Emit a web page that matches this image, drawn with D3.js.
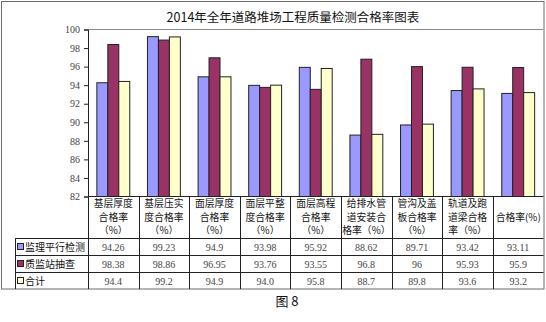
<!DOCTYPE html>
<html><head><meta charset="utf-8">
<script src="https://cdn.jsdelivr.net/npm/d3@7"></script>
<style>
body{margin:0;background:#fff;}
svg text{font-family:"Noto Sans CJK SC","DejaVu Sans",sans-serif;}
</style></head>
<body><svg id="c" width="546" height="322"></svg>
<script>
const title = "2014年全年道路堆场工程质量检测合格率图表";
const categories = ["c1","c2","c3","c4","c5","c6","c7","c8","c9"];
const categoryLabels = [
  ["基层厚度","合格率","（%）"],
  ["基层压实","度合格率","（%）"],
  ["面层厚度","合格率","（%）"],
  ["面层平整","度合格率","（%）"],
  ["面层高程","合格率","（%）"],
  ["给排水管","道安装合","格率（%）"],
  ["管沟及盖","板合格率","（%）"],
  ["轨道及跑","道梁合格","率（%）"],
  ["合格率(%)"]
];
const seriesNames = ["监理平行检测","质监站抽查","合计"];
const supervision = [94.26, 99.23, 94.9, 93.98, 95.92, 88.62, 89.71, 93.42, 93.11];
const spotCheck   = [98.38, 98.86, 96.95, 93.76, 93.55, 96.8, 96, 95.93, 95.9];
const total       = [94.4, 99.2, 94.9, 94.0, 95.8, 88.7, 89.8, 93.6, 93.2];
const supervisionLabels = ["94.26","99.23","94.9","93.98","95.92","88.62","89.71","93.42","93.11"];
const spotCheckLabels   = ["98.38","98.86","96.95","93.76","93.55","96.8","96","95.93","95.9"];
const totalLabels       = ["94.4","99.2","94.9","94.0","95.8","88.7","89.8","93.6","93.2"];
const yTicks = [82,84,86,88,90,92,94,96,98,100];
const colors = ["#9999FF","#993366","#FFFFCC"];
const caption = "图 8";

const series = [supervision, spotCheck, total];
const seriesLabels = [supervisionLabels, spotCheckLabels, totalLabels];

const svg = d3.select("#c");
const L = 88, R = 543.5, T = 29.5, B = 196.5;
const x = d3.scaleBand().domain(categories).range([L, R]).paddingInner(0.35).paddingOuter(0.175);
const xs = d3.scaleBand().domain(d3.range(3)).range([0, x.bandwidth()]);
const y = d3.scaleLinear().domain([82, 100]).range([B, T]);
const step = x.step();

// outer frame
svg.append("rect").attr("x",1.5).attr("y",1.5).attr("width",542.5).attr("height",287.5)
  .attr("fill","none").attr("stroke","#6b6b6b").attr("stroke-width",1);

// title
svg.append("text").attr("x",293).attr("y",22).attr("text-anchor","middle")
  .attr("font-size","12.5px").attr("fill","#111").text(title);

// plot area top border
svg.append("line").attr("x1",L).attr("x2",R).attr("y1",T).attr("y2",T).attr("stroke","#8a8a8a");

// bars
const g = svg.append("g");
series.forEach((vals, si) => {
  g.selectAll(null).data(vals).join("rect")
    .attr("x", (d,i) => x(categories[i]) + xs(si))
    .attr("y", d => y(d))
    .attr("width", xs.bandwidth())
    .attr("height", d => y(82) - y(d))
    .attr("fill", colors[si]).attr("stroke","#222").attr("stroke-width",1);
});

// y axis
const ax = svg.append("g").attr("transform",`translate(${L},0)`)
  .call(d3.axisLeft(y).tickValues(yTicks).tickSize(4).tickPadding(4));
ax.select(".domain").attr("stroke","#222");
ax.selectAll(".tick line").attr("stroke","#222");
ax.selectAll(".tick text").attr("font-size","10px").attr("fill","#444")
  .style("font-family","'Liberation Serif','DejaVu Serif',serif");

// table
const rowY = [B, 238, 255, 272, 289];
const tg = svg.append("g").attr("stroke","#222").attr("stroke-width",1);
tg.append("line").attr("x1",L).attr("x2",R).attr("y1",B).attr("y2",B);
[238,255,272].forEach(v => tg.append("line").attr("x1",15).attr("x2",R).attr("y1",v+0.5).attr("y2",v+0.5));
tg.append("line").attr("x1",15.5).attr("x2",15.5).attr("y1",238).attr("y2",289);
d3.range(categories.length).forEach(i => {
  const xv = Math.round(L + i*step) + 0.5;
  tg.append("line").attr("x1",xv).attr("x2",xv).attr("y1",B).attr("y2",289);
});

// category labels
categoryLabels.forEach((lines, i) => {
  const cx = x(categories[i]) + x.bandwidth()/2;
  const n = lines.length;
  const mid = (B + 238)/2;
  lines.forEach((t, k) => {
    svg.append("text").attr("x", cx).attr("y", mid + (k - (n-1)/2)*13.5 + 3.5)
      .attr("text-anchor","middle").attr("font-size","9.8px").attr("fill","#111").text(t);
  });
});

// legend rows + values
seriesNames.forEach((name, si) => {
  const cy = (rowY[si+1] + rowY[si+2])/2 + 0.5;
  svg.append("rect").attr("x",17.5).attr("y",cy-3.5).attr("width",6).attr("height",6)
    .attr("fill",colors[si]).attr("stroke","#222").attr("stroke-width",1);
  svg.append("text").attr("x",25).attr("y",cy+3.5).attr("font-size","10px").attr("fill","#111").text(name);
  seriesLabels[si].forEach((t, i) => {
    svg.append("text").attr("x", x(categories[i]) + x.bandwidth()/2).attr("y", cy+3.5)
      .attr("text-anchor","middle").attr("font-size","10px").attr("fill","#444")
      .style("font-family","'Liberation Serif','DejaVu Serif',serif").text(t);
  });
});

// caption
svg.append("text").attr("x",287).attr("y",306).attr("text-anchor","middle")
  .attr("font-size","13px").attr("fill","#111").text(caption);
</script></body></html>
